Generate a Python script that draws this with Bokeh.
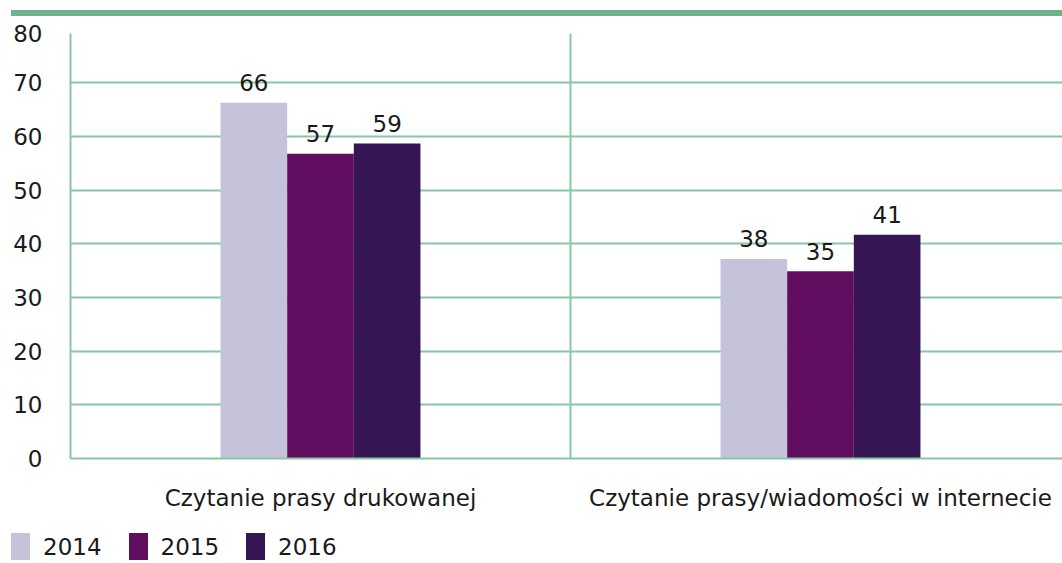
from bokeh.plotting import figure
from bokeh.models import ColumnDataSource, FixedTicker, Range1d, Div
from bokeh.layouts import column
from bokeh.core.properties import value
from bokeh.embed import file_html
from bokeh.resources import INLINE

categories = ["Czytanie prasy drukowanej", "Czytanie prasy/wiadomości w internecie"]
years = ["2014", "2015", "2016"]
v2014 = [66.3, 37.2]
v2015 = [56.8, 34.9]
v2016 = [58.7, 41.7]
labels2014 = ["66", "38"]
labels2015 = ["57", "35"]
labels2016 = ["59", "41"]
y_ticks = [0, 10, 20, 30, 40, 50, 60, 70, 79.2]
y_tick_labels = ["0", "10", "20", "30", "40", "50", "60", "70", "80"]

colors = ["#c5c3d9", "#620e60", "#351553"]
GRID = "#86c8a3"
BAND = "#6db38a"
TXT = "#1a1a1a"
FONT = "DejaVu Sans"
FS = "23px"

p = figure(width=1062, height=509, output_backend="svg", toolbar_location=None,
           x_range=Range1d(0, 1.984), y_range=Range1d(0, y_ticks[-1]),
           min_border_left=70, min_border_right=0, min_border_top=17, min_border_bottom=67)
p.outline_line_color = None
p.background_fill_color = "white"
p.border_fill_color = "white"

bar_w = 0.1333
offsets = [-bar_w, 0.0, bar_w]
series = [v2014, v2015, v2016]
labels = [labels2014, labels2015, labels2016]
for k, (vals, labs) in enumerate(zip(series, labels)):
    xs = [i + 0.5 + offsets[k] for i in range(len(categories))]
    src = ColumnDataSource(dict(x=xs, top=vals, lab=labs))
    p.vbar(x="x", top="top", width=bar_w, bottom=0, source=src,
           fill_color=colors[k], line_color=None)
    p.text(x="x", y="top", text="lab", source=src, text_align="center",
           text_baseline="alphabetic", y_offset=-20, text_font=value(FONT),
           text_font_size=FS, text_color=TXT)

# axes
for ax in (p.xaxis[0], p.yaxis[0]):
    ax.major_tick_line_color = None
    ax.minor_tick_line_color = None
    ax.major_tick_out = 0
    ax.major_tick_in = 0
    ax.minor_tick_out = 0
    ax.minor_tick_in = 0
    ax.axis_line_color = GRID
    ax.axis_line_width = 2
    ax.major_label_text_font = FONT
    ax.major_label_text_font_size = FS
    ax.major_label_text_color = TXT

p.yaxis.ticker = FixedTicker(ticks=y_ticks)
p.yaxis.major_label_overrides = {t: s for t, s in zip(y_ticks, y_tick_labels)}
p.yaxis.major_label_standoff = 28
p.xaxis.ticker = FixedTicker(ticks=[0.5, 1.5])
p.xaxis.major_label_overrides = {0.5: categories[0], 1.5: categories[1]}
p.xaxis.major_label_standoff = 26

p.ygrid.ticker = FixedTicker(ticks=y_ticks)
p.ygrid.grid_line_color = GRID
p.ygrid.grid_line_width = 2
p.xgrid.ticker = FixedTicker(ticks=[1])
p.xgrid.grid_line_color = GRID
p.xgrid.grid_line_width = 2

# legend strip below the chart
parts = []
for c, y in zip(colors, years):
    parts.append(
        f'<span style="display:inline-block;width:19px;height:27px;background:{c};"></span>'
        f'<span style="margin-left:13px;margin-right:27px;">{y}</span>'
    )
legend_html = (f'<div style="display:flex;align-items:flex-end;font-family:\'{FONT}\';'
               f'font-size:{FS};color:{TXT};line-height:25px;">' + "".join(parts) + "</div>")
legend_div = Div(text=legend_html, width=1040, height=30, margin=(8, 0, 0, 11))

band = Div(text="", width=1051, height=6, margin=(10, 0, 0, 11),
           styles={"background-color": BAND})

layout = column(band, p, legend_div, spacing=0)
open("out.html", "w").write(file_html(layout, INLINE))
